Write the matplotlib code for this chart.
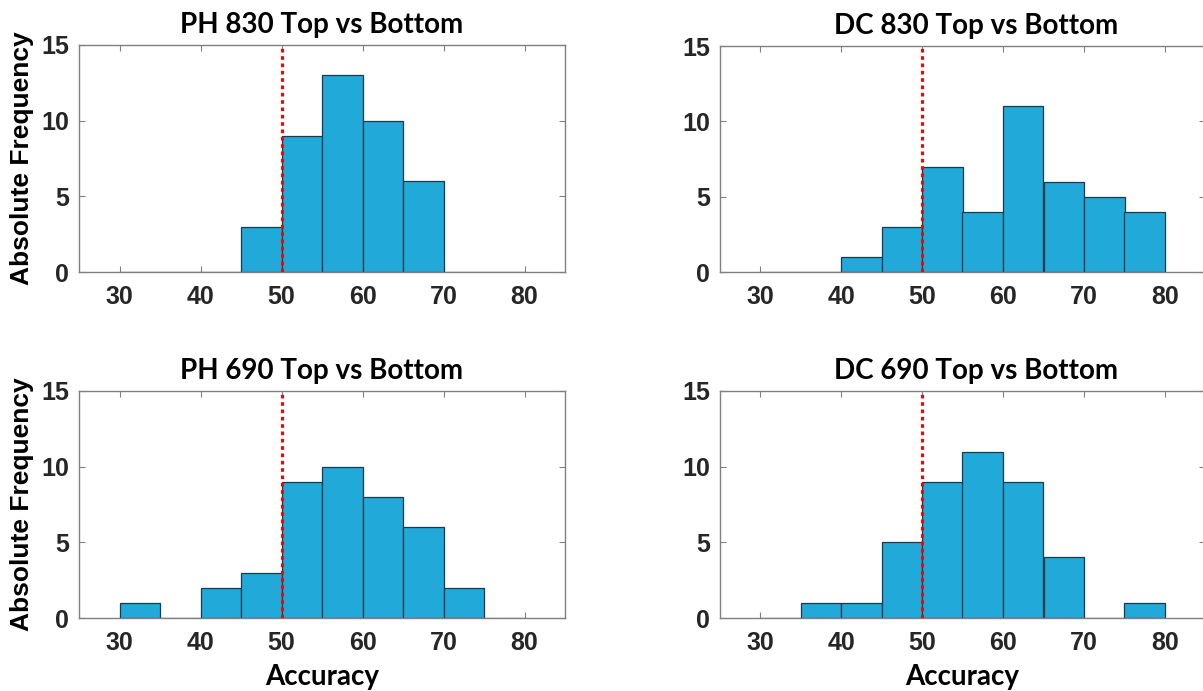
import matplotlib
matplotlib.use("Agg")
import matplotlib.pyplot as plt
import numpy as np

bin_edges = [30, 35, 40, 45, 50, 55, 60, 65, 70, 75, 80]
titles = ["PH 830 Top vs Bottom", "DC 830 Top vs Bottom",
          "PH 690 Top vs Bottom", "DC 690 Top vs Bottom"]
ph830 = [0, 0, 0, 3, 9, 13, 10, 6, 0, 0]
dc830 = [0, 0, 1, 3, 7, 4, 11, 6, 5, 4]
ph690 = [1, 0, 2, 3, 9, 10, 8, 6, 2, 0]
dc690 = [0, 1, 1, 5, 9, 11, 9, 4, 0, 1]
chance_level = 50
xticks = [30, 40, 50, 60, 70, 80]
yticks = [0, 5, 10, 15]

plt.rcParams["font.family"] = ["Liberation Sans", "DejaVu Sans"]
plt.rcParams["font.weight"] = "bold"
plt.rcParams["xtick.labelsize"] = 18
plt.rcParams["ytick.labelsize"] = 18

W, H = 1203, 691
fig = plt.figure(figsize=(W / 100, H / 100), dpi=100)
fig.patch.set_facecolor("white")

def rect(l, t, r, b):
    return [l / W, 1 - b / H, (r - l) / W, (b - t) / H]

positions = [rect(79, 45, 565, 272), rect(719.5, 46, 1205.5, 272),
             rect(79, 391, 565, 618), rect(719.5, 391, 1205.5, 618)]
data = [ph830, dc830, ph690, dc690]

title_family = ["Lato", "DejaVu Sans"]
bar_color = "#21AAD9"
frame_color = "#808080"

edges = np.array(bin_edges)
for i, (pos, counts, title) in enumerate(zip(positions, data, titles)):
    ax = fig.add_axes(pos)
    ax.bar(edges[:-1], counts, width=np.diff(edges), align="edge",
           color=bar_color, edgecolor="#1a3a4a", linewidth=0.9, zorder=2)
    ax.axvline(chance_level, color="red", linestyle=(0, (1.2, 1.2)),
               linewidth=2.2, zorder=3)
    ax.set_xlim(25, 85)
    ax.set_ylim(0, 15)
    ax.set_xticks(xticks)
    ax.set_yticks(yticks)
    ax.tick_params(direction="in", top=True, right=True, length=4,
                   width=0.8, color=frame_color, labelcolor="#262626")
    ax.tick_params(axis="x", pad=9)
    ax.tick_params(axis="y", pad=7)
    for s in ax.spines.values():
        s.set_color(frame_color)
        s.set_linewidth(1.0)
    if i in (1, 3):
        # the reference crops the right edge of the right-hand panels
        ax.spines["right"].set_visible(False)
    tx = 0.5 if i in (0, 2) else 0.528
    ax.set_title(title, family=title_family, weight="bold", fontsize=20,
                 pad=8.5, x=tx)
    if i in (0, 2):
        ax.set_ylabel("Absolute Frequency", family=["Liberation Sans"],
                      weight="bold", fontsize=19, labelpad=5)
    if i in (2, 3):
        ax.set_xlabel("Accuracy", family=title_family, weight="bold",
                      fontsize=20, labelpad=7)

fig.savefig("out.png", dpi=100)
